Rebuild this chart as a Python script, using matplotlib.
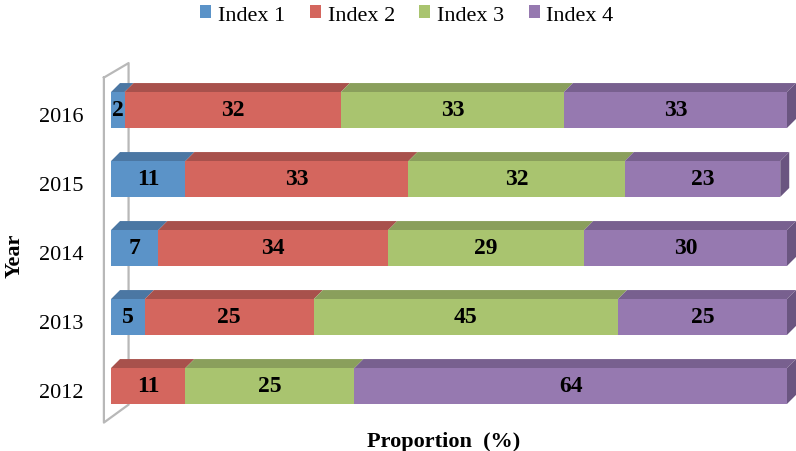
import numpy as np
import matplotlib.pyplot as plt
from matplotlib.patches import Polygon, Patch
from matplotlib.lines import Line2D
from matplotlib.transforms import ScaledTranslation

years = ['2012', '2013', '2014', '2015', '2016']
series = ['Index 1', 'Index 2', 'Index 3', 'Index 4']
index1 = [0, 5, 7, 11, 2]
index2 = [11, 25, 34, 33, 32]
index3 = [25, 45, 29, 32, 33]
index4 = [64, 25, 30, 23, 33]

front = ['#5b93c8', '#d4665e', '#a9c46f', '#9679b0']
top = ['#4b77a3', '#a8514c', '#8a9f5c', '#78608f']
side = ['#3e6488', '#8c4440', '#748650', '#6a5580']

plt.rcParams['font.family'] = ['Liberation Serif', 'DejaVu Serif']

fig = plt.figure(figsize=(7.96, 4.52), dpi=100)
ax = fig.add_axes([111/796, (452-421.5)/452, 676/796, 345/452])
ax.set_xlim(0, 100)
ax.set_ylim(-0.5, 4.5)

# depth of the fake 3D faces, in data units
dx = 9 * 100 / 676
dy = 9 / 69
h = 0.52

# back wall outline
wall = Line2D([-1.05, 2.6, 2.6, -1.05, -1.05], [4.47, 4.68, -0.27, -0.53, 4.47],
              color='#b8b8b8', lw=1.6, clip_on=False, zorder=1)
ax.add_line(wall)

data = np.array([index1, index2, index3, index4], dtype=float)
y = np.arange(len(years))
left = np.zeros(len(years))
for i, vals in enumerate(data):
    ax.barh(y, vals, left=left, height=h, color=front[i],
            edgecolor='none', zorder=3, label=series[i])
    for j, v in enumerate(vals):
        if v <= 0:
            continue
        x0, x1 = left[j], left[j] + v
        yt = y[j] + h / 2
        ax.add_patch(Polygon([[x0, yt], [x1, yt], [x1 + dx, yt + dy], [x0 + dx, yt + dy]],
                             closed=True, facecolor=top[i], edgecolor='none',
                             zorder=2.5, clip_on=False))
        ax.text((x0 + x1) / 2, y[j], f'{int(v)}', ha='center', va='center',
                fontsize=17, fontweight='bold', zorder=5)
    left = left + vals

# right end side faces
for j in range(len(years)):
    xe = left[j]
    yb, yt = y[j] - h / 2, y[j] + h / 2
    ax.add_patch(Polygon([[xe, yb], [xe, yt], [xe + dx, yt + dy], [xe + dx, yb + dy]],
                         closed=True, facecolor=side[3], edgecolor='none',
                         zorder=2.5, clip_on=False))

ax.set_yticks(y)
ax.set_yticklabels(years, fontsize=16)
ax.tick_params(axis='y', length=0, pad=20)
shift = ScaledTranslation(0, -4/100, fig.dpi_scale_trans)
for lbl in ax.get_yticklabels():
    lbl.set_transform(lbl.get_transform() + shift)
ax.set_xticks([])
for s in ax.spines.values():
    s.set_visible(False)

fig.text(15/796, 1 - 256/452, 'Year', rotation=90, ha='center', va='center',
         fontsize=16, fontweight='bold')
fig.text(444/796, 1 - 442/452, 'Proportion  (%)', ha='center', va='center',
         fontsize=16, fontweight='bold')

handles = [Patch(facecolor=front[i], edgecolor='none', label=series[i]) for i in range(4)]
fig.legend(handles=handles, loc='center', bbox_to_anchor=(407/796, 1 - 16/452), ncol=4,
           frameon=False, fontsize=16, handlelength=0.5, handleheight=0.5,
           handletextpad=0.3, columnspacing=1.1, borderaxespad=0)

fig.savefig('out.png', dpi=100)
